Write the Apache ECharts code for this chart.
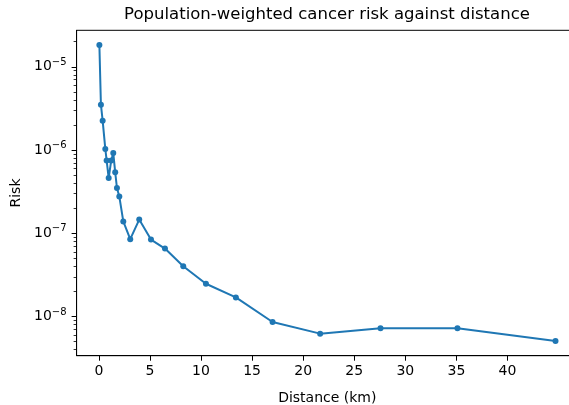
<!DOCTYPE html>
<html>
<head>
<meta charset="utf-8">
<script src="https://cdn.jsdelivr.net/npm/echarts@6/dist/echarts.min.js"></script>
<style>
  html, body { margin: 0; padding: 0; background: #fff; }
  #chart { width: 569px; height: 405px; }
</style>
</head>
<body>
<div id="chart"></div>
<script>
// distance (km) of each point
var distances = [0.05, 0.2, 0.37, 0.63, 0.76, 0.96, 1.21, 1.41, 1.6, 1.77, 2.0, 2.39, 3.07, 3.95,
    5.1, 6.47, 8.26, 10.48, 13.41, 17.0, 21.66, 27.57, 35.1, 44.7];
// population-weighted risk
var risks = [1.82e-5, 3.5e-6, 2.25e-6, 1.03e-6, 7.5e-7, 4.6e-7, 7.5e-7, 9.2e-7, 5.4e-7, 3.5e-7, 2.77e-7, 1.39e-7, 8.5e-8, 1.46e-7,
    8.4e-8, 6.56e-8, 4.03e-8, 2.48e-8, 1.70e-8, 8.6e-9, 6.24e-9, 7.22e-9, 7.22e-9, 5.1e-9];

// tick labels
var xTicks = [0, 5, 10, 15, 20, 25, 30, 35, 40];
var yMajorTicks = [1e-8, 1e-7, 1e-6, 1e-5];
var yMinorTicks = [4e-9, 5e-9, 6e-9, 7e-9, 8e-9, 9e-9,
    2e-8, 3e-8, 4e-8, 5e-8, 6e-8, 7e-8, 8e-8, 9e-8,
    2e-7, 3e-7, 4e-7, 5e-7, 6e-7, 7e-7, 8e-7, 9e-7,
    2e-6, 3e-6, 4e-6, 5e-6, 6e-6, 7e-6, 8e-6, 9e-6,
    2e-5];

var FONT = 'DejaVu Sans';

var points = [];
for (var i = 0; i < distances.length; i++) {
    points.push([distances[i], risks[i]]);
}

var myChart = echarts.init(document.getElementById('chart'), null, {renderer: 'canvas'});

var option = {
    animation: false,
    backgroundColor: '#fff',
    title: {
        text: 'Population-weighted cancer risk against distance',
        left: 327,
        top: 6,
        padding: 0,
        textAlign: 'center',
        textStyle: {fontFamily: FONT, fontSize: 16.5, fontWeight: 'normal', color: '#000'}
    },
    // the plot frame runs past the right edge of the picture
    grid: {
        left: 76.6, top: 30.3, width: 501.4, height: 325.4,
        outerBoundsMode: 'none',
        containLabel: false,
        show: true, borderColor: '#000', borderWidth: 1, backgroundColor: 'transparent'
    },
    xAxis: {
        type: 'value',
        min: -2.18,
        max: 46.9,
        name: 'Distance (km)',
        nameLocation: 'middle',
        nameGap: 36,
        nameTextStyle: {fontFamily: FONT, fontSize: 14, color: '#000'},
        axisLine: {show: true, onZero: false, lineStyle: {color: '#000', width: 1}},
        axisTick: {show: true, length: 5, lineStyle: {color: '#000', width: 1}, customValues: xTicks},
        axisLabel: {
            fontFamily: FONT, fontSize: 14, color: '#000', margin: 9,
            customValues: xTicks
        },
        splitLine: {show: false}
    },
    yAxis: [{
        type: 'log',
        logBase: 10,
        position: 'left',
        min: 3.39e-9,
        max: 2.74e-5,
        name: 'Risk',
        nameLocation: 'middle',
        nameGap: 52,
        nameTextStyle: {fontFamily: FONT, fontSize: 14, color: '#000'},
        axisLine: {show: true, onZero: false, lineStyle: {color: '#000', width: 1}},
        axisTick: {show: true, length: 5, lineStyle: {color: '#000', width: 1}, customValues: yMajorTicks},
        axisLabel: {
            margin: 10,
            customValues: yMajorTicks,
            formatter: function (v) {
                var e = Math.round(Math.log(v) / Math.LN10);
                return '{b|10}{s|' + (e < 0 ? '\u2212' : '') + Math.abs(e) + '}';
            },
            rich: {
                b: {fontFamily: FONT, fontSize: 14, color: '#000'},
                s: {fontFamily: FONT, fontSize: 10, color: '#000', padding: [0, 0, 9, 0]}
            }
        },
        splitLine: {show: false}
    }, {
        // minor ticks only
        type: 'log',
        logBase: 10,
        position: 'left',
        min: 3.39e-9,
        max: 2.74e-5,
        axisLine: {show: false, onZero: false},
        axisTick: {show: true, length: 3, lineStyle: {color: '#000', width: 0.8}, customValues: yMinorTicks},
        axisLabel: {show: false},
        splitLine: {show: false}
    }],
    series: [{
        type: 'line',
        data: points,
        yAxisIndex: 0,
        symbol: 'circle',
        symbolSize: 6,
        showSymbol: true,
        lineStyle: {color: '#1f77b4', width: 2},
        itemStyle: {color: '#1f77b4', borderWidth: 0},
        clip: false
    }]
};

myChart.setOption(option);
</script>
</body>
</html>
